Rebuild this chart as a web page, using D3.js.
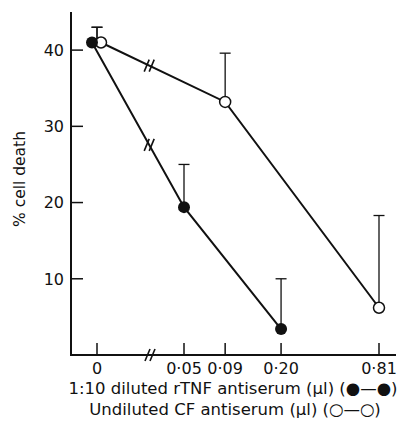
<!DOCTYPE html>
<html>
<head>
<meta charset="utf-8">
<script src="https://cdn.jsdelivr.net/npm/d3@7"></script>
<style>
  html, body { margin: 0; padding: 0; background: #fff; }
  svg text { font-family: "DejaVu Sans", sans-serif; fill: #111; }
</style>
</head>
<body>
<div id="chart"></div>
<script>
// tick labels / values on the dose axis (log spaced, broken at zero)
var doseTicks  = [0, 0.05, 0.09, 0.20, 0.81];
var doseLabels = ["0", "0·05", "0·09", "0·20", "0·81"];
var deathTicks = [10, 20, 30, 40];

// 1:10 diluted rTNF antiserum (filled)
var rtnfDose  = [0, 0.05, 0.20];
var rtnfDeath = [41, 19.4, 3.4];
var rtnfUpper = [43, 25, 10];

// undiluted CF antiserum (open)
var cfDose  = [0, 0.09, 0.81];
var cfDeath = [41, 33.2, 6.2];
var cfUpper = [43, 39.6, 18.3];

var w = 401, h = 425,
    x0 = 71, yBase = 355;

var xl = d3.scaleLog().domain([0.05, 0.81]).range([184, 379]),
    zeroX = 97,
    y  = d3.scaleLinear().domain([0, 45]).range([yBase, 12]);

function x(v) { return v === 0 ? zeroX : xl(v); }
var breakX = zeroX + 0.6 * (xl(0.05) - zeroX);

var vis = d3.select("#chart")
  .append("svg")
  .attr("width", w)
  .attr("height", h);

// axes
vis.append("line")
  .attr("x1", x0).attr("y1", y(45))
  .attr("x2", x0).attr("y2", yBase + 1)
  .style("stroke", "#111").style("stroke-width", 2);
vis.append("line")
  .attr("x1", x0 - 1).attr("y1", yBase)
  .attr("x2", 396).attr("y2", yBase)
  .style("stroke", "#111").style("stroke-width", 2);

// y ticks (inward)
vis.selectAll(".ytick")
  .data(deathTicks)
  .enter().append("line")
  .attr("x1", x0).attr("x2", x0 + 12)
  .attr("y1", function(d){ return y(d); })
  .attr("y2", function(d){ return y(d); })
  .style("stroke", "#111").style("stroke-width", 1.5);

vis.selectAll(".ylab")
  .data(deathTicks)
  .enter().append("text")
  .attr("x", 64)
  .attr("y", function(d){ return y(d); })
  .attr("dy", "0.36em")
  .attr("text-anchor", "end")
  .style("font-size", "16px")
  .text(function(d){ return d; });

// x ticks (inward)
vis.selectAll(".xtick")
  .data(doseTicks)
  .enter().append("line")
  .attr("x1", function(d){ return x(d); })
  .attr("x2", function(d){ return x(d); })
  .attr("y1", yBase).attr("y2", yBase - 12)
  .style("stroke", "#111").style("stroke-width", 1.5);

vis.selectAll(".xlab")
  .data(doseTicks)
  .enter().append("text")
  .attr("x", function(d){ return x(d); })
  .attr("y", 374)
  .attr("text-anchor", "middle")
  .style("font-size", "16px")
  .text(function(d, i){ return doseLabels[i]; });

// break marks "//"
function breakMark(cx, cy) {
  [-2.5, 2.5].forEach(function(o) {
    vis.append("line")
      .attr("x1", cx + o - 2.5).attr("y1", cy + 6)
      .attr("x2", cx + o + 2.5).attr("y2", cy - 6)
      .style("stroke", "#111").style("stroke-width", 1.6);
  });
}
breakMark(150, yBase);

function pointAt(xs, ys, px) {
  var t = (px - xs[0]) / (xs[1] - xs[0]);
  return ys[0] + t * (ys[1] - ys[0]);
}

// series
var offs = { rtnf: -5, cf: 4 };
function sx(d, off) { return x(d) + (d === 0 ? off : 0); }

var line = d3.line()
  .x(function(d){ return d[0]; })
  .y(function(d){ return d[1]; });

var cfPts = cfDose.map(function(d, i){ return [sx(d, offs.cf), y(cfDeath[i])]; });
var rtPts = rtnfDose.map(function(d, i){ return [sx(d, offs.rtnf), y(rtnfDeath[i])]; });

[cfPts, rtPts].forEach(function(pts) {
  vis.append("path")
    .attr("d", line(pts))
    .style("stroke", "#111").style("stroke-width", 2)
    .style("fill", "none");
  breakMark(breakX, pointAt([pts[0][0], pts[1][0]], [pts[0][1], pts[1][1]], breakX));
});

// error bars (upper only)
function errBars(dose, death, upper) {
  dose.forEach(function(d, i) {
    var cx = x(d);
    vis.append("line")
      .attr("x1", cx).attr("x2", cx)
      .attr("y1", y(death[i])).attr("y2", y(upper[i]))
      .style("stroke", "#111").style("stroke-width", 1.3);
    vis.append("line")
      .attr("x1", cx - 5.5).attr("x2", cx + 5.5)
      .attr("y1", y(upper[i])).attr("y2", y(upper[i]))
      .style("stroke", "#111").style("stroke-width", 1.3);
  });
}
errBars(cfDose, cfDeath, cfUpper);
errBars(rtnfDose, rtnfDeath, rtnfUpper);

vis.selectAll(".cf")
  .data(cfPts)
  .enter().append("circle")
  .attr("cx", function(d){ return d[0]; })
  .attr("cy", function(d){ return d[1]; })
  .attr("r", 5.5)
  .style("fill", "#fff").style("stroke", "#111").style("stroke-width", 1.5);

vis.selectAll(".rt")
  .data(rtPts)
  .enter().append("circle")
  .attr("cx", function(d){ return d[0]; })
  .attr("cy", function(d){ return d[1]; })
  .attr("r", 6)
  .style("fill", "#111");

// axis titles
vis.append("text")
  .attr("transform", "translate(25,179) rotate(-90)")
  .attr("text-anchor", "middle")
  .style("font-size", "15.5px")
  .text("% cell death");

vis.append("text")
  .attr("x", 233).attr("y", 394)
  .attr("text-anchor", "middle")
  .style("font-size", "16.5px")
  .text("1:10 diluted rTNF antiserum (µl) (●—●)");

vis.append("text")
  .attr("x", 235).attr("y", 415)
  .attr("text-anchor", "middle")
  .style("font-size", "16.5px")
  .text("Undiluted CF antiserum (µl) (○—○)");
</script>
</body>
</html>
